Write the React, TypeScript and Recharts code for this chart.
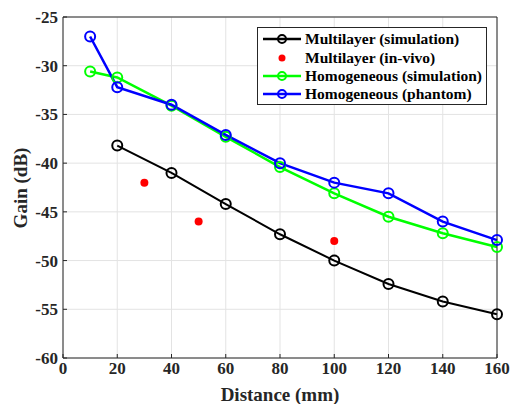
import {
  ComposedChart,
  Line,
  Scatter,
  XAxis,
  YAxis,
  CartesianGrid,
  Legend,
  Label,
} from 'recharts';

// distances in mm
const simDistance = [20, 40, 60, 80, 100, 120, 140, 160];
const homDistance = [10, 20, 40, 60, 80, 100, 120, 140, 160];
const vivoDistance = [30, 50, 100];

// gain values in dB
const multilayerSim = [-38.2, -41.0, -44.2, -47.3, -50.0, -52.4, -54.2, -55.5];
const multilayerVivo = [-42.0, -46.0, -48.0];
const homogeneousSim = [-30.6, -31.2, -34.1, -37.3, -40.4, -43.1, -45.5, -47.2, -48.6];
const homogeneousPhantom = [-27.0, -32.2, -34.0, -37.1, -40.0, -42.0, -43.1, -46.0, -47.9];

const xTicks = [0, 20, 40, 60, 80, 100, 120, 140, 160];
const yTicks = [-60, -55, -50, -45, -40, -35, -30, -25];

const zip = (xs: number[], ys: number[]) => xs.map((x, i) => ({ x, y: ys[i] }));

const font = "'Liberation Serif', serif";
const axisColor = '#262626';

const series = [
  { name: 'Multilayer (simulation)', color: '#000000', line: true },
  { name: 'Multilayer (in-vivo)', color: '#ff0000', line: false },
  { name: 'Homogeneous (simulation)', color: '#00ff00', line: true },
  { name: 'Homogeneous (phantom)', color: '#0000ff', line: true },
];

function LegendBox() {
  return (
    <div
      style={{
        width: 230,
        height: 78,
        border: '1px solid ' + axisColor,
        background: '#fff',
        fontFamily: font,
        fontWeight: 'bold',
        fontSize: 15.5,
        paddingTop: 2,
        boxSizing: 'border-box',
        whiteSpace: 'nowrap',
      }}
    >
      {series.map((s) => (
        <div key={s.name} style={{ display: 'flex', alignItems: 'center', height: 18.4, color: '#000' }}>
          <svg width={40} height={12} style={{ marginLeft: 4, marginRight: 3, flexShrink: 0 }}>
            {s.line && <line x1={1} y1={6} x2={39} y2={6} stroke={s.color} strokeWidth={2.5} />}
            {s.line ? (
              <circle cx={20} cy={6} r={4} fill="none" stroke={s.color} strokeWidth={2} />
            ) : (
              <circle cx={20} cy={6} r={3.5} fill={s.color} />
            )}
          </svg>
          <span>{s.name}</span>
        </div>
      ))}
    </div>
  );
}

const openDot = (color: string) => ({ r: 5, fill: 'none', stroke: color, strokeWidth: 2 });

const tickStyle = { fill: axisColor, fontSize: 17, fontWeight: 'bold', fontFamily: font };
const noLabel = () => <g />;

export default function App() {
  return (
    <div style={{ position: 'absolute', left: 0, top: 0, background: '#fff', fontFamily: font }}>
      <ComposedChart
        width={513}
        height={404}
        margin={{ top: 16, right: 15, left: 0, bottom: 0 }}
        style={{ fontFamily: font }}
      >
        <CartesianGrid stroke="#e3e3e3" strokeWidth={1} />
        <XAxis
          type="number"
          dataKey="x"
          domain={[0, 160]}
          ticks={xTicks}
          height={46}
          tickSize={-4}
          tickMargin={8}
          tickLine={{ stroke: axisColor }}
          axisLine={{ stroke: axisColor }}
          tick={tickStyle}
        >
          <Label
            value="Distance (mm)"
            position="insideBottom"
            offset={3}
            style={{ fill: axisColor, fontSize: 19, fontWeight: 'bold', fontFamily: font }}
          />
        </XAxis>
        <XAxis
          xAxisId="top"
          orientation="top"
          type="number"
          domain={[0, 160]}
          ticks={xTicks}
          height={1}
          tickSize={-4}
          tickLine={{ stroke: axisColor }}
          axisLine={{ stroke: axisColor }}
          tick={noLabel}
        />
        <YAxis
          type="number"
          domain={[-60, -25]}
          ticks={yTicks}
          width={63}
          tickSize={-4}
          tickMargin={9}
          tickLine={{ stroke: axisColor }}
          axisLine={{ stroke: axisColor }}
          tick={tickStyle}
        >
          <Label
            content={() => (
              <text
                x={20}
                y={188}
                transform="rotate(-90, 20, 188)"
                textAnchor="middle"
                dominantBaseline="central"
                style={{ fill: axisColor, fontSize: 19, fontWeight: 'bold', fontFamily: font }}
              >
                Gain (dB)
              </text>
            )}
          />
        </YAxis>
        <YAxis
          yAxisId="right"
          orientation="right"
          type="number"
          domain={[-60, -25]}
          ticks={yTicks}
          width={1}
          tickSize={-4}
          tickLine={{ stroke: axisColor }}
          axisLine={{ stroke: axisColor }}
          tick={noLabel}
        />
        <Legend
          layout="horizontal"
          verticalAlign="middle"
          align="center"
          content={() => <LegendBox />}
          wrapperStyle={{ top: 27, left: 257, width: 230 }}
        />
        <Line
          data={zip(simDistance, multilayerSim)}
          dataKey="y"
          name="Multilayer (simulation)"
          stroke="#000000"
          strokeWidth={2}
          dot={openDot('#000000')}
          isAnimationActive={false}
        />
        <Scatter
          data={zip(vivoDistance, multilayerVivo)}
          dataKey="y"
          name="Multilayer (in-vivo)"
          fill="#ff0000"
          shape={(p: any) => <circle cx={p.cx} cy={p.cy} r={4} fill="#ff0000" />}
          isAnimationActive={false}
        />
        <Line
          data={zip(homDistance, homogeneousSim)}
          dataKey="y"
          name="Homogeneous (simulation)"
          stroke="#00ff00"
          strokeWidth={2.5}
          dot={openDot('#00ff00')}
          isAnimationActive={false}
        />
        <Line
          data={zip(homDistance, homogeneousPhantom)}
          dataKey="y"
          name="Homogeneous (phantom)"
          stroke="#0000ff"
          strokeWidth={2.5}
          dot={openDot('#0000ff')}
          isAnimationActive={false}
        />
      </ComposedChart>
    </div>
  );
}
